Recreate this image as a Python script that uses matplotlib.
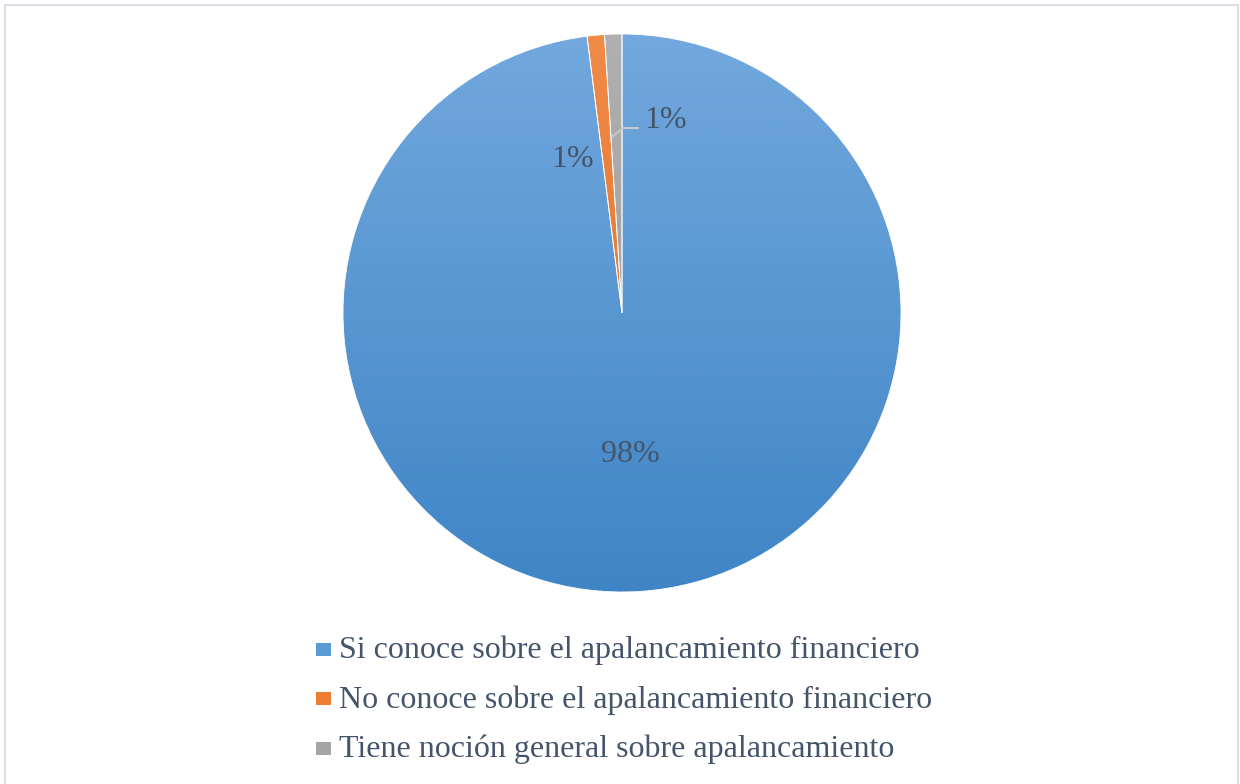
import matplotlib
matplotlib.use('Agg')
import matplotlib.pyplot as plt
import numpy as np
from matplotlib.colors import LinearSegmentedColormap
from matplotlib.patches import Rectangle
from matplotlib.lines import Line2D

categories = ["Si conoce sobre el apalancamiento financiero",
              "No conoce sobre el apalancamiento financiero",
              "Tiene noción general sobre apalancamiento"]
values = [98, 1, 1]
pct_labels = ["98%", "1%", "1%"]
colors = ["#5b9bd5", "#ed7d31", "#a5a5a5"]
grad_top = ["#72a8dd", "#f18b48", "#b0b0b0"]
grad_bottom = ["#3f85c6", "#d96c20", "#969696"]

plt.rcParams['font.family'] = ['Liberation Serif', 'DejaVu Serif']
TEXT = "#44546a"

W, H = 1240, 784
fig = plt.figure(figsize=(W / 100, H / 100), dpi=100)
fig.patch.set_facecolor('white')

# chart border
fig.patches.append(Rectangle((5 / W, -0.05), (1238 - 5) / W, (H - 5) / H + 0.05,
                             transform=fig.transFigure, fill=False,
                             edgecolor="#d9dee6", linewidth=1.5))

cx, cy, r = 622, 313, 279
ax = fig.add_axes([(cx - r) / W, (H - cy - r) / H, 2 * r / W, 2 * r / H])
wedges, _ = ax.pie(values, colors=colors, startangle=90, counterclock=False,
                   radius=1, wedgeprops=dict(edgecolor='white', linewidth=0.6))

grad = np.linspace(1, 0, 512).reshape(-1, 1)
for w, ct, cb in zip(wedges, grad_top, grad_bottom):
    cmap = LinearSegmentedColormap.from_list('g', [cb, ct])
    im = ax.imshow(grad, extent=(-1, 1, -1, 1), cmap=cmap, vmin=0, vmax=1,
                   aspect='auto', zorder=1, interpolation='bilinear')
    im.set_clip_path(w)
    w.set_facecolor('none')
    w.set_zorder(3)

ax.set_xlim(-1, 1)
ax.set_ylim(-1, 1)
ax.set_aspect('equal')
ax.axis('off')

# data labels
ax.text(0.029, -0.506, pct_labels[0], ha='center', va='center', fontsize=23, color=TEXT, zorder=5)
ax.text(-0.176, 0.55, pct_labels[1], ha='center', va='center', fontsize=23, color=TEXT, zorder=5)
ax.text(0.079, 0.69, pct_labels[2], ha='left', va='center', fontsize=23, color=TEXT, zorder=5)
ax.add_line(Line2D([-0.036, 0.004, 0.057], [0.631, 0.663, 0.663], color="#c8c8c8",
                   linewidth=1.5, zorder=4))

# legend
rows_y = [658.3, 707.8, 757.3]
for cat, col, yy in zip(categories, colors, rows_y):
    sw, sh = 15, 13
    sc = yy - 9
    fig.patches.append(Rectangle((316 / W, (H - sc - sh / 2) / H), sw / W, sh / H,
                                 transform=fig.transFigure, facecolor=col, edgecolor='none'))
    fig.text(339 / W, (H - yy) / H, cat, ha='left', va='baseline', fontsize=23.05, color=TEXT)

fig.savefig('out.png', dpi=100)
